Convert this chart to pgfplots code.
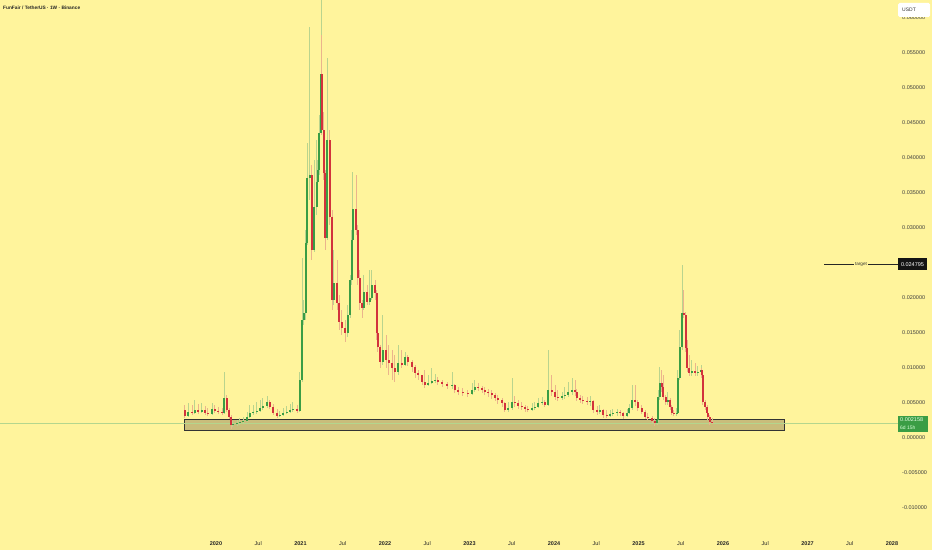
\documentclass[border=0pt]{standalone}
\usepackage{pgfplots}
\pgfplotsset{compat=1.18}
\usepackage{pgfplotstable}
\usepackage{fontspec}
\setmainfont{Liberation Sans}

\definecolor{bg}{HTML}{FFF49C}
\definecolor{upc}{HTML}{3A9D45}
\definecolor{dnc}{HTML}{D2323C}
\definecolor{upw}{HTML}{B9D48E}
\definecolor{dnw}{HTML}{EBB48C}
\definecolor{zone}{HTML}{C9BD7B}
\definecolor{lastline}{HTML}{B4D68E}

% weekly-ish candles, FUN/USDT: time (years), open, high, low, close
\pgfplotstableread{
t o h l c
2019.633 0.00400 0.00471 0.00286 0.00314
2019.669 0.00314 0.00500 0.00300 0.00371
2019.716 0.00371 0.00471 0.00329 0.00357
2019.751 0.00357 0.00543 0.00343 0.00400
2019.787 0.00400 0.00486 0.00343 0.00371
2019.834 0.00371 0.00500 0.00357 0.00400
2019.870 0.00400 0.00457 0.00329 0.00357
2019.905 0.00357 0.00429 0.00314 0.00343
2019.953 0.00343 0.00500 0.00329 0.00414
2019.988 0.00414 0.00471 0.00357 0.00386
2020.024 0.00386 0.00443 0.00343 0.00371
2020.071 0.00371 0.00429 0.00329 0.00357
2020.095 0.00357 0.00943 0.00343 0.00571
2020.130 0.00571 0.00614 0.00371 0.00400
2020.154 0.00400 0.00429 0.00271 0.00300
2020.178 0.00300 0.00329 0.00129 0.00186
2020.201 0.00186 0.00243 0.00157 0.00200
2020.249 0.00200 0.00257 0.00171 0.00214
2020.284 0.00214 0.00286 0.00186 0.00229
2020.320 0.00229 0.00300 0.00200 0.00243
2020.367 0.00243 0.00371 0.00229 0.00300
2020.402 0.00300 0.00471 0.00286 0.00357
2020.438 0.00357 0.00471 0.00329 0.00371
2020.485 0.00371 0.00514 0.00343 0.00386
2020.521 0.00386 0.00543 0.00371 0.00429
2020.556 0.00429 0.00571 0.00400 0.00457
2020.604 0.00457 0.00600 0.00429 0.00514
2020.639 0.00514 0.00543 0.00414 0.00443
2020.675 0.00443 0.00486 0.00329 0.00357
2020.722 0.00357 0.00414 0.00286 0.00314
2020.757 0.00314 0.00386 0.00300 0.00329
2020.793 0.00329 0.00429 0.00314 0.00357
2020.840 0.00357 0.00457 0.00343 0.00371
2020.876 0.00371 0.00486 0.00357 0.00400
2020.911 0.00400 0.00514 0.00371 0.00414
2020.959 0.00414 0.00471 0.00357 0.00386
2020.994 0.00386 0.00943 0.00371 0.00829
2021.018 0.00829 0.02571 0.00800 0.01686
2021.041 0.01686 0.01971 0.01614 0.01786
2021.065 0.01786 0.02971 0.01686 0.02786
2021.077 0.02786 0.04214 0.02757 0.03714
2021.112 0.03714 0.05871 0.03400 0.03757
2021.136 0.03757 0.03900 0.02543 0.02686
2021.160 0.02686 0.03971 0.02657 0.03300
2021.195 0.03300 0.04257 0.03186 0.03657
2021.207 0.03657 0.03971 0.03614 0.03829
2021.219 0.03829 0.04614 0.03757 0.04357
2021.243 0.04357 0.06329 0.04329 0.05200
2021.254 0.05200 0.05757 0.04329 0.04400
2021.278 0.04400 0.04657 0.03686 0.03786
2021.290 0.03786 0.03829 0.02686 0.02857
2021.314 0.02857 0.05429 0.02829 0.04257
2021.349 0.04257 0.04400 0.03043 0.03157
2021.373 0.03157 0.03257 0.01829 0.01971
2021.396 0.01971 0.02686 0.01900 0.02214
2021.432 0.02214 0.02543 0.01829 0.01929
2021.456 0.01929 0.02043 0.01543 0.01657
2021.491 0.01657 0.01829 0.01471 0.01571
2021.527 0.01571 0.01686 0.01371 0.01500
2021.562 0.01500 0.01900 0.01443 0.01757
2021.586 0.01757 0.02329 0.01714 0.02257
2021.609 0.02257 0.02971 0.02186 0.02829
2021.621 0.02829 0.03800 0.02757 0.03271
2021.657 0.03271 0.03757 0.02900 0.02971
2021.680 0.02971 0.03043 0.02186 0.02286
2021.704 0.02286 0.02400 0.01829 0.01929
2021.728 0.01929 0.01971 0.01714 0.01857
2021.751 0.01857 0.02329 0.01829 0.02086
2021.787 0.02086 0.02186 0.01900 0.01943
2021.822 0.01943 0.02400 0.01900 0.02000
2021.846 0.02000 0.02400 0.01971 0.02186
2021.882 0.02186 0.02257 0.01971 0.02071
2021.905 0.02071 0.02114 0.01400 0.01500
2021.917 0.01500 0.01543 0.01229 0.01300
2021.941 0.01300 0.01329 0.01000 0.01086
2021.976 0.01086 0.01757 0.01043 0.01257
2022.012 0.01257 0.01471 0.01000 0.01114
2022.047 0.01114 0.01329 0.00900 0.01071
2022.083 0.01071 0.01257 0.00829 0.01000
2022.118 0.01000 0.01186 0.00800 0.00943
2022.154 0.00943 0.01329 0.00900 0.01071
2022.201 0.01071 0.01257 0.01000 0.01043
2022.237 0.01043 0.01229 0.01029 0.01157
2022.272 0.01157 0.01186 0.01029 0.01086
2022.320 0.01086 0.01114 0.00943 0.01014
2022.355 0.01014 0.01043 0.00857 0.00929
2022.391 0.00929 0.00971 0.00829 0.00900
2022.438 0.00900 0.00900 0.00757 0.00800
2022.473 0.00800 0.00971 0.00714 0.00757
2022.509 0.00757 0.00900 0.00743 0.00786
2022.556 0.00786 0.01000 0.00771 0.00814
2022.592 0.00814 0.00914 0.00786 0.00829
2022.627 0.00829 0.00871 0.00757 0.00800
2022.675 0.00800 0.00829 0.00729 0.00771
2022.734 0.00771 0.00800 0.00700 0.00743
2022.793 0.00743 0.00943 0.00700 0.00757
2022.828 0.00757 0.00771 0.00643 0.00686
2022.864 0.00686 0.00729 0.00614 0.00657
2022.923 0.00657 0.00714 0.00600 0.00643
2022.982 0.00643 0.00686 0.00586 0.00629
2023.030 0.00629 0.00786 0.00614 0.00686
2023.065 0.00686 0.00829 0.00657 0.00729
2023.101 0.00729 0.00786 0.00671 0.00714
2023.148 0.00714 0.00743 0.00643 0.00686
2023.183 0.00686 0.00729 0.00614 0.00657
2023.219 0.00657 0.00700 0.00586 0.00643
2023.266 0.00643 0.00686 0.00557 0.00614
2023.302 0.00614 0.00643 0.00529 0.00571
2023.337 0.00571 0.00614 0.00486 0.00543
2023.385 0.00543 0.00571 0.00443 0.00500
2023.420 0.00500 0.00514 0.00371 0.00400
2023.456 0.00400 0.00514 0.00371 0.00429
2023.503 0.00429 0.00857 0.00400 0.00514
2023.538 0.00514 0.00600 0.00443 0.00500
2023.574 0.00500 0.00543 0.00414 0.00457
2023.621 0.00457 0.00514 0.00400 0.00443
2023.657 0.00443 0.00471 0.00371 0.00414
2023.692 0.00414 0.00457 0.00371 0.00400
2023.740 0.00400 0.00500 0.00386 0.00429
2023.775 0.00429 0.00514 0.00400 0.00443
2023.811 0.00443 0.00571 0.00429 0.00500
2023.858 0.00500 0.00586 0.00471 0.00514
2023.893 0.00514 0.00543 0.00443 0.00471
2023.929 0.00471 0.01257 0.00457 0.00686
2023.976 0.00686 0.00900 0.00600 0.00657
2024.012 0.00657 0.00757 0.00543 0.00586
2024.047 0.00586 0.00686 0.00529 0.00571
2024.095 0.00571 0.00657 0.00543 0.00600
2024.130 0.00600 0.00729 0.00557 0.00614
2024.166 0.00614 0.00800 0.00586 0.00657
2024.213 0.00657 0.00857 0.00614 0.00686
2024.249 0.00686 0.00829 0.00600 0.00657
2024.272 0.00657 0.00700 0.00529 0.00571
2024.308 0.00571 0.00614 0.00500 0.00543
2024.343 0.00543 0.00600 0.00486 0.00529
2024.391 0.00529 0.00586 0.00471 0.00514
2024.426 0.00514 0.00600 0.00457 0.00529
2024.462 0.00529 0.00543 0.00357 0.00400
2024.509 0.00400 0.00457 0.00329 0.00371
2024.544 0.00371 0.00471 0.00343 0.00400
2024.580 0.00400 0.00414 0.00286 0.00329
2024.627 0.00329 0.00400 0.00286 0.00314
2024.663 0.00314 0.00400 0.00300 0.00343
2024.698 0.00343 0.00414 0.00314 0.00357
2024.746 0.00357 0.00414 0.00314 0.00371
2024.781 0.00371 0.00400 0.00314 0.00357
2024.817 0.00357 0.00371 0.00271 0.00314
2024.864 0.00314 0.00414 0.00300 0.00357
2024.888 0.00357 0.00486 0.00343 0.00429
2024.923 0.00429 0.00757 0.00400 0.00543
2024.959 0.00543 0.00757 0.00457 0.00514
2024.994 0.00514 0.00543 0.00386 0.00429
2025.041 0.00429 0.00471 0.00343 0.00371
2025.077 0.00371 0.00400 0.00271 0.00300
2025.112 0.00300 0.00357 0.00257 0.00286
2025.160 0.00286 0.00314 0.00214 0.00243
2025.195 0.00243 0.00286 0.00171 0.00214
2025.219 0.00214 0.00314 0.00186 0.00257
2025.231 0.00257 0.00686 0.00229 0.00586
2025.254 0.00586 0.01014 0.00543 0.00786
2025.278 0.00786 0.00971 0.00657 0.00729
2025.290 0.00729 0.00900 0.00543 0.00586
2025.325 0.00586 0.00614 0.00471 0.00514
2025.349 0.00514 0.00657 0.00471 0.00543
2025.373 0.00543 0.00571 0.00400 0.00443
2025.396 0.00443 0.00471 0.00329 0.00357
2025.420 0.00357 0.00400 0.00314 0.00343
2025.455 0.00343 0.00429 0.00314 0.00357
2025.467 0.00357 0.00971 0.00343 0.00857
2025.491 0.00857 0.01543 0.00829 0.01300
2025.515 0.01300 0.02471 0.01257 0.01786
2025.538 0.01786 0.02114 0.01714 0.01757
2025.562 0.01757 0.01800 0.01229 0.01286
2025.574 0.01286 0.01400 0.00943 0.01000
2025.598 0.01000 0.01186 0.00886 0.00929
2025.633 0.00929 0.01114 0.00886 0.00957
2025.669 0.00957 0.01071 0.00886 0.00929
2025.704 0.00929 0.01029 0.00886 0.00943
2025.740 0.00943 0.01043 0.00900 0.00971
2025.751 0.00971 0.01000 0.00857 0.00900
2025.763 0.00900 0.00943 0.00471 0.00514
2025.787 0.00514 0.00543 0.00400 0.00443
2025.811 0.00443 0.00471 0.00314 0.00357
2025.822 0.00357 0.00400 0.00257 0.00300
2025.846 0.00300 0.00329 0.00186 0.00229
2025.870 0.00229 0.00286 0.00200 0.002158
}\candles

\newcommand{\lbl}{\fontsize{5.5}{6.5}\selectfont}

\begin{document}
\begin{tikzpicture}
\fill[bg] (0,0) rectangle (932pt,550pt);
\useasboundingbox (0,0) rectangle (932pt,550pt);
\begin{axis}[
  at={(0pt,30pt)}, anchor=south west,
  scale only axis, width=898pt, height=520pt,
  xmin=2017.4438, xmax=2028.0710,
  ymin=-0.0117143, ymax=0.0625714,
  axis line style={draw=none},
  major tick length=0pt,
  clip mode=individual,
  scaled y ticks=false,
  xtick={2020,2020.5,...,2028},
  xticklabels={\textbf{2020},Jul,\textbf{2021},Jul,\textbf{2022},Jul,\textbf{2023},Jul,
    \textbf{2024},Jul,\textbf{2025},Jul,\textbf{2026},Jul,\textbf{2027},Jul,\textbf{2028}},
  xticklabel style={font=\lbl, text=black!85, anchor=center, yshift=-24pt, inner sep=0pt},
  ytick={-0.01,-0.005,0,0.005,0.01,0.015,0.02,0.03,0.035,0.04,0.045,0.05,0.055,0.06},
  yticklabel pos=right,
  yticklabel={\pgfmathprintnumber[fixed,fixed zerofill,precision=6]{\tick}},
  yticklabel style={font=\lbl, text=black!75, anchor=west, xshift=4pt, inner sep=0pt},
  /pgf/number format/assume math mode=true,
]
% support zone
\draw[fill=zone, draw=black!80, line width=1pt]
  (axis cs:2019.633,0.00100) rectangle (axis cs:2026.722,0.00257);
% last price line
\draw[lastline, line width=0.6pt] (axis cs:2017.4438,0.002158) -- (axis cs:2028.071,0.002158);
% wicks
\addplot[draw=none, mark=none, error bars/.cd, y dir=both, y explicit, error mark=none,
  error bar style={draw=upw, line width=1pt}]
  table[x=t, y expr={(\thisrow{c}>=\thisrow{o}) ? (\thisrow{h}+\thisrow{l})/2 : -1},
    y error expr={(\thisrow{h}-\thisrow{l})/2}] {\candles};
\addplot[draw=none, mark=none, error bars/.cd, y dir=both, y explicit, error mark=none,
  error bar style={draw=dnw, line width=1pt}]
  table[x=t, y expr={(\thisrow{c}<\thisrow{o}) ? (\thisrow{h}+\thisrow{l})/2 : -1},
    y error expr={(\thisrow{h}-\thisrow{l})/2}] {\candles};
% bodies
\addplot[draw=none, mark=none, error bars/.cd, y dir=both, y explicit, error mark=none,
  error bar style={draw=upc, line width=2.1pt}]
  table[x=t, y expr={(\thisrow{c}>=\thisrow{o}) ? (\thisrow{o}+\thisrow{c})/2 : -1},
    y error expr={abs(\thisrow{c}-\thisrow{o})/2}] {\candles};
\addplot[draw=none, mark=none, error bars/.cd, y dir=both, y explicit, error mark=none,
  error bar style={draw=dnc, line width=2.1pt}]
  table[x=t, y expr={(\thisrow{c}<\thisrow{o}) ? (\thisrow{o}+\thisrow{c})/2 : -1},
    y error expr={abs(\thisrow{c}-\thisrow{o})/2}] {\candles};
\end{axis}
% hide the clipped 2028 label part under the price scale
\fill[bg] (898pt,0pt) rectangle (932pt,30pt);
% title
\node[anchor=west, inner sep=0pt, font=\fontsize{4.8}{6}\selectfont\bfseries, text=black!85]
  at (3pt,542pt) {FunFair / TetherUS · 1W · Binance};
% currency box
\fill[white, rounded corners=1.5pt] (898pt,533pt) rectangle (930pt,547pt);
\node[anchor=west, inner sep=0pt, font=\fontsize{5}{6}\selectfont, text=black!80] at (902pt,540pt) {USDT};
% target line and label
\draw[black!85, line width=1pt] (824pt,285.6pt) -- (898pt,285.6pt);
\node[fill=bg, inner xsep=1.2pt, inner ysep=0.6pt, font=\fontsize{4.6}{5}\selectfont, text=black!80]
  at (861pt,285.6pt) {target};
\fill[black!92] (898pt,279.6pt) rectangle (927pt,291.6pt);
\node[inner sep=0pt, font=\lbl, text=white] at (912.5pt,285.6pt) {0.024795};
% last price label
\fill[upc] (898pt,118.5pt) rectangle (928pt,134pt);
\node[anchor=west, inner sep=0pt, font=\lbl, text=white!90!green] at (900pt,130pt) {0.002158};
\node[anchor=west, inner sep=0pt, font=\fontsize{5}{6}\selectfont, text=white!85!green] at (900pt,122pt) {6d 15h};
\end{tikzpicture}
\end{document}
